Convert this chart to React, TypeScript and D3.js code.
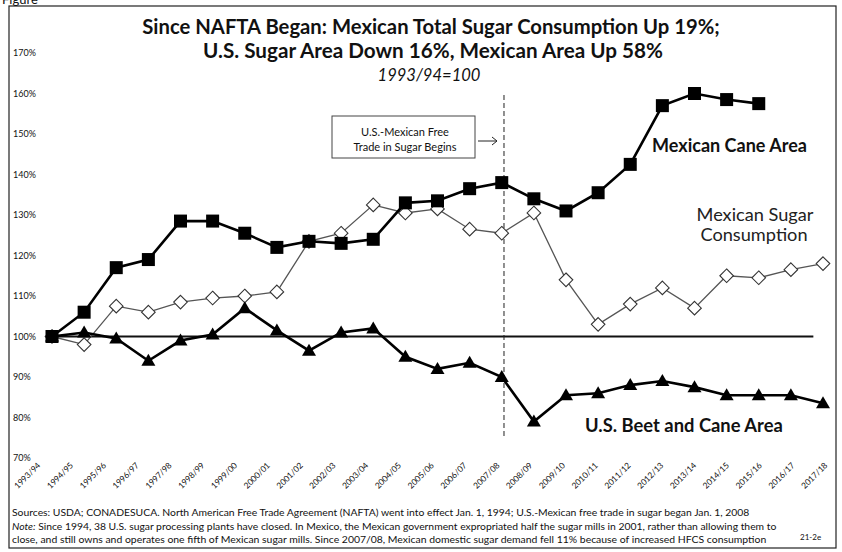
import React, { useRef, useEffect } from "react";
import * as d3 from "d3";

// Marketing years on the x axis
const years = [
  "1993/94", "1994/95", "1995/96", "1996/97", "1997/98", "1998/99", "1999/00",
  "2000/01", "2001/02", "2002/03", "2003/04", "2004/05", "2005/06", "2006/07",
  "2007/08", "2008/09", "2009/10", "2010/11", "2011/12", "2012/13", "2013/14",
  "2014/15", "2015/16", "2016/17", "2017/18",
];

// Index values, 1993/94 = 100
const mexicanCaneArea = [
  100, 106, 117, 119, 128.5, 128.5, 125.5, 122, 123.5, 123, 124, 133, 133.5,
  136.5, 138, 134, 131, 135.5, 142.5, 157, 160, 158.5, 157.5,
];
const mexicanConsumption = [
  100, 98, 107.5, 106, 108.5, 109.5, 110, 111, 123.5, 125.5, 132.5, 130.5, 131.5,
  126.5, 125.5, 130.5, 114, 103, 108, 112, 107, 115, 114.5, 116.5, 118,
];
const usBeetCaneArea = [
  100, 101, 99.5, 94, 99, 100.5, 107, 101.5, 96.5, 101, 102, 95, 92, 93.5, 90,
  79, 85.5, 86, 88, 89, 87.5, 85.5, 85.5, 85.5, 83.5,
];
const yTicks = [70, 80, 90, 100, 110, 120, 130, 140, 150, 160, 170];

const titleLines = [
  "Since NAFTA Began: Mexican Total Sugar Consumption Up 19%;",
  "U.S. Sugar Area Down 16%, Mexican Area Up 58%",
];
const subtitle = "1993/94=100";
const footerLines = [
  "Sources:  USDA; CONADESUCA. North American Free Trade Agreement (NAFTA) went into effect Jan. 1, 1994; U.S.-Mexican free trade in sugar began Jan. 1, 2008",
  "Since 1994, 38 U.S. sugar processing plants have closed. In Mexico, the Mexican government expropriated half the sugar mills in 2001, rather than allowing them to",
  "close, and still owns and operates one fifth of Mexican sugar mills. Since 2007/08, Mexican domestic sugar demand fell 11% because of increased HFCS consumption",
];

const W = 842;
const H = 552;
const FONT = "Lato, 'Open Sans', sans-serif";

export default function App() {
  const svgRef = useRef<SVGSVGElement>(null);

  useEffect(() => {
    if (!svgRef.current) return;
    const svg = d3.select(svgRef.current);
    svg.selectAll("*").remove();

    const x = d3.scaleLinear().domain([0, years.length - 1]).range([52, 823]);
    // category labels sit on a slightly wider spacing than the points
    const xl = d3.scaleLinear().domain([0, years.length - 1]).range([41, 828]);
    const y = d3.scaleLinear().domain([70, 170]).range([458, 53]);

    // scale a text's font so it fills a given width
    const fit = (sel: any, width: number) => {
      const node = sel.node() as SVGTextElement;
      const len = node.getComputedTextLength();
      const fs = parseFloat(sel.attr("font-size"));
      if (len > 0) sel.attr("font-size", (fs * width) / len);
    };

    // frame
    svg.append("rect")
      .attr("x", 9).attr("y", 6)
      .attr("width", 827).attr("height", 542)
      .attr("fill", "none").attr("stroke", "#222").attr("stroke-width", 1.2);

    svg.append("text")
      .attr("x", 2).attr("y", 4)
      .attr("font-family", FONT).attr("font-size", 13)
      .attr("fill", "#111")
      .text("Figure");

    // title
    const t1 = svg.append("text")
      .attr("x", 431).attr("y", 34)
      .attr("text-anchor", "middle")
      .attr("font-family", FONT).attr("font-weight", "bold").attr("font-size", 18)
      .attr("fill", "#111").text(titleLines[0]);
    fit(t1, 578);
    const t2 = svg.append("text")
      .attr("x", 433).attr("y", 58)
      .attr("text-anchor", "middle")
      .attr("font-family", FONT).attr("font-weight", "bold").attr("font-size", 18)
      .attr("fill", "#111").text(titleLines[1]);
    fit(t2, 460);
    const st = svg.append("text")
      .attr("x", 429).attr("y", 81)
      .attr("text-anchor", "middle")
      .attr("font-family", FONT).attr("font-style", "italic").attr("font-size", 14)
      .attr("fill", "#111").text(subtitle);
    fit(st, 103);

    // y tick labels
    svg.append("g")
      .selectAll("text")
      .data(yTicks)
      .join("text")
      .attr("x", 13)
      .attr("y", d => y(d) + 3)
      .attr("font-family", FONT).attr("font-size", 9)
      .attr("fill", "#111")
      .text(d => `${d}%`);

    // x tick labels
    svg.append("g")
      .selectAll("text")
      .data(years)
      .join("text")
      .attr("transform", (d, i) => `translate(${xl(i)},${466}) rotate(-45)`)
      .attr("text-anchor", "end")
      .attr("font-family", FONT).attr("font-size", 8.4)
      .attr("fill", "#111")
      .text(d => d);

    // 100% reference line
    svg.append("line")
      .attr("x1", x(0)).attr("x2", x(23.7))
      .attr("y1", y(100)).attr("y2", y(100))
      .attr("stroke", "#111").attr("stroke-width", 1.8);

    // free trade marker
    svg.append("line")
      .attr("x1", x(14.07)).attr("x2", x(14.07))
      .attr("y1", 95).attr("y2", 436)
      .attr("stroke", "#222").attr("stroke-width", 1)
      .attr("stroke-dasharray", "5,3");

    svg.append("rect")
      .attr("x", 332).attr("y", 116)
      .attr("width", 143).attr("height", 42)
      .attr("fill", "#fff").attr("stroke", "#444").attr("stroke-width", 1);
    svg.append("text")
      .attr("x", 405).attr("y", 136)
      .attr("text-anchor", "middle")
      .attr("font-family", FONT).attr("font-size", 11)
      .attr("fill", "#111").text("U.S.-Mexican Free");
    svg.append("text")
      .attr("x", 405).attr("y", 151)
      .attr("text-anchor", "middle")
      .attr("font-family", FONT).attr("font-size", 11)
      .attr("fill", "#111").text("Trade in Sugar Begins");
    svg.append("path")
      .attr("d", "M478,141 L497,141 M492,137 L497,141 L492,145")
      .attr("fill", "none").attr("stroke", "#222").attr("stroke-width", 1);

    const line = d3.line<number>()
      .x((d, i) => x(i))
      .y(d => y(d));

    // Mexican sugar consumption
    svg.append("path")
      .datum(mexicanConsumption)
      .attr("fill", "none").attr("stroke", "#555").attr("stroke-width", 1.3)
      .attr("d", line);
    const dm = 6.8;
    svg.append("g")
      .selectAll("path")
      .data(mexicanConsumption)
      .join("path")
      .attr("d", (d, i) => {
        const cx = x(i), cy = y(d);
        return `M${cx},${cy - dm}L${cx + dm},${cy}L${cx},${cy + dm}L${cx - dm},${cy}Z`;
      })
      .attr("fill", "#fff").attr("stroke", "#333").attr("stroke-width", 1.1);

    // U.S. beet and cane area
    svg.append("path")
      .datum(usBeetCaneArea)
      .attr("fill", "none").attr("stroke", "#000").attr("stroke-width", 2.6)
      .attr("d", line);
    svg.append("g")
      .selectAll("path")
      .data(usBeetCaneArea)
      .join("path")
      .attr("d", (d, i) => {
        const cx = x(i), cy = y(d);
        return `M${cx},${cy - 7}L${cx + 7},${cy + 5}L${cx - 7},${cy + 5}Z`;
      })
      .attr("fill", "#000");

    // Mexican cane area
    svg.append("path")
      .datum(mexicanCaneArea)
      .attr("fill", "none").attr("stroke", "#000").attr("stroke-width", 2.6)
      .attr("d", line);
    svg.append("g")
      .selectAll("rect")
      .data(mexicanCaneArea)
      .join("rect")
      .attr("x", (d, i) => x(i) - 6.5)
      .attr("y", d => y(d) - 6.5)
      .attr("width", 13).attr("height", 13)
      .attr("fill", "#000");

    // series labels
    const l1 = svg.append("text")
      .attr("x", 652).attr("y", 152)
      .attr("font-family", FONT).attr("font-weight", "bold").attr("font-size", 15)
      .attr("fill", "#111").text("Mexican Cane Area");
    fit(l1, 155);
    const l2 = svg.append("text")
      .attr("x", 755).attr("y", 221)
      .attr("text-anchor", "middle")
      .attr("font-family", FONT).attr("font-size", 14)
      .attr("fill", "#222").text("Mexican Sugar");
    fit(l2, 117);
    svg.append("text")
      .attr("x", 754).attr("y", 241)
      .attr("text-anchor", "middle")
      .attr("font-family", FONT).attr("font-size", l2.attr("font-size"))
      .attr("fill", "#222").text("Consumption");
    const l3 = svg.append("text")
      .attr("x", 585).attr("y", 432)
      .attr("font-family", FONT).attr("font-weight", "bold").attr("font-size", 15)
      .attr("fill", "#111").text("U.S. Beet and Cane Area");
    fit(l3, 198);

    // footer
    const f1 = svg.append("text")
      .attr("x", 12).attr("y", 516)
      .attr("font-family", FONT).attr("font-size", 9.5)
      .attr("fill", "#111").text(footerLines[0]);
    fit(f1, 738);
    const f2 = svg.append("text")
      .attr("x", 12).attr("y", 530)
      .attr("font-family", FONT).attr("font-size", 9.5)
      .attr("fill", "#111");
    f2.append("tspan").attr("font-style", "italic").text("Note:");
    f2.append("tspan").text(" " + footerLines[1]);
    fit(f2, 765);
    const f3 = svg.append("text")
      .attr("x", 12).attr("y", 543)
      .attr("font-family", FONT).attr("font-size", 9.5)
      .attr("fill", "#111").text(footerLines[2]);
    fit(f3, 755);
    svg.append("text")
      .attr("x", 800).attr("y", 540)
      .attr("font-family", FONT).attr("font-size", 8)
      .attr("fill", "#111").text("21-2e");
  }, []);

  return (
    <svg
      ref={svgRef}
      width={W}
      height={H}
      style={{ position: "absolute", left: 0, top: 0, background: "#fff" }}
    />
  );
}
